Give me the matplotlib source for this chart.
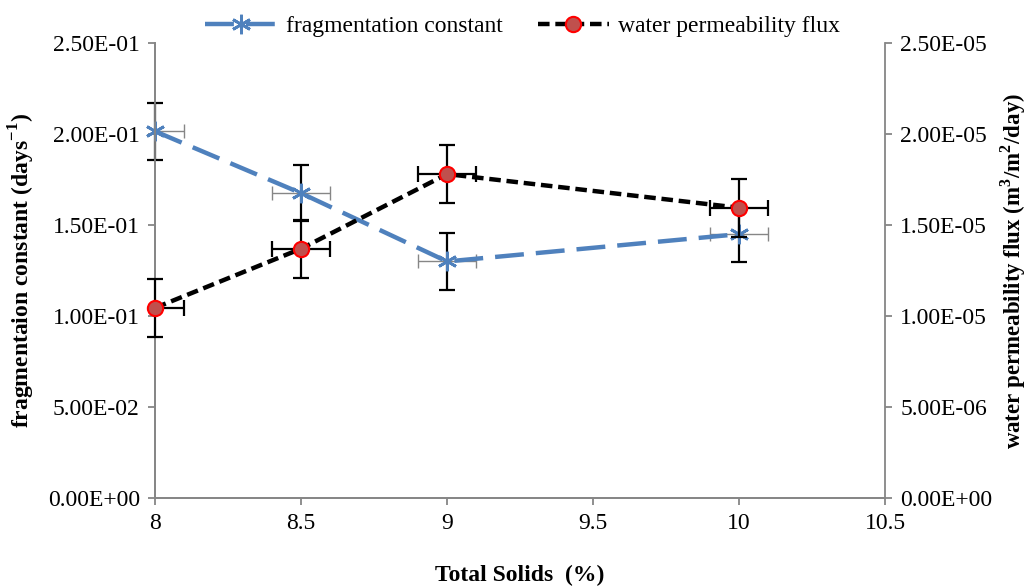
import matplotlib
matplotlib.use("Agg")
import matplotlib.pyplot as plt
from matplotlib.ticker import FuncFormatter

plt.rcParams['font.family'] = ['Liberation Serif', 'DejaVu Serif']
plt.rcParams['mathtext.fontset'] = 'custom'
plt.rcParams['mathtext.rm'] = 'Liberation Serif'
plt.rcParams['mathtext.bf'] = 'Liberation Serif:bold'

# data
total_solids = [8, 8.5, 9, 10]
frag_const = [0.2015, 0.1675, 0.1300, 0.1450]
frag_yerr = [0.0155, 0.0155, 0.0155, 0.0155]
flux = [1.045e-5, 1.37e-5, 1.78e-5, 1.595e-5]
flux_yerr = [1.6e-6, 1.6e-6, 1.6e-6, 1.6e-6]
x_err = [0.1, 0.1, 0.1, 0.1]

blue = '#4F81BD'
grey = '#868686'
fs = 17

def sci(v, pos):
    return '%.2E' % v

fig = plt.figure(figsize=(10.35, 5.86), dpi=100)
ax = fig.add_axes([0.1498, 0.150, 0.7054, 0.7766])
ax2 = ax.twinx()

# fragmentation constant
ax.errorbar(total_solids, frag_const, xerr=x_err, fmt='none', ecolor=grey,
            elinewidth=1.0, capsize=5, capthick=1.0, zorder=3)
eb = ax.errorbar(total_solids, frag_const, yerr=frag_yerr, fmt='none', ecolor='black',
                 elinewidth=1.6, capsize=6, capthick=1.6, zorder=3)
for art in eb.lines[1] + eb.lines[2]:
    art.set_clip_on(False)
l1, = ax.plot(total_solids, frag_const, color=blue, lw=3.2, dashes=(6.5, 2.7),
              marker=(6, 2, 0), markersize=14, markeredgewidth=2,
              markeredgecolor=blue, label='fragmentation constant', zorder=4,
              clip_on=False)

# water permeability flux
ax2.errorbar(total_solids, flux, xerr=x_err, fmt='none', ecolor='black',
             elinewidth=1.6, capsize=6, capthick=1.6, zorder=3)
eb2 = ax2.errorbar(total_solids, flux, yerr=flux_yerr, fmt='none', ecolor='black',
                   elinewidth=1.6, capsize=6, capthick=1.6, zorder=3)
for art in eb2.lines[1] + eb2.lines[2]:
    art.set_clip_on(False)
l2, = ax2.plot(total_solids, flux, color='black', lw=3.2, dashes=(2.6, 1.3),
               marker='o', markersize=11, markerfacecolor='#C0504D',
               markeredgecolor='red', markeredgewidth=1.5,
               label='water permeability flux', zorder=4, clip_on=False)

ax.set_xlim(8, 10.5)
ax.set_ylim(0, 0.25)
ax2.set_ylim(0, 2.5e-5)
ax.set_xticks([8, 8.5, 9, 9.5, 10, 10.5])
ax.set_xticklabels(['8', '8.5', '9', '9.5', '10', '10.5'])
ax.set_yticks([0, 0.05, 0.1, 0.15, 0.2, 0.25])
ax2.set_yticks([0, 0.5e-5, 1e-5, 1.5e-5, 2e-5, 2.5e-5])
ax.yaxis.set_major_formatter(FuncFormatter(sci))
ax2.yaxis.set_major_formatter(FuncFormatter(sci))

for a in (ax, ax2):
    a.spines['top'].set_visible(False)
    for s in ('left', 'right', 'bottom'):
        a.spines[s].set_color(grey)
        a.spines[s].set_linewidth(1.3)
    a.tick_params(axis='both', colors=grey, labelcolor='black', labelsize=fs,
                  direction='out', length=5, width=1.3, pad=6)
ax.spines['right'].set_visible(False)

ax.set_xlabel('Total Solids  (%)', fontsize=fs, fontweight='bold', labelpad=22)
ax.set_ylabel('fragmentaion constant (days$^{\\mathbf{-1}}$)', fontsize=fs,
              fontweight='bold', labelpad=8)
ax2.set_ylabel('water permeability flux (m$^{\\mathbf{3}}$/m$^{\\mathbf{2}}$/day)',
               fontsize=16.5, fontweight='bold', labelpad=4)

fig.legend(handles=[l1, l2], loc='upper center', bbox_to_anchor=(0.505, 1.01),
           ncol=2, frameon=False, fontsize=fs, handlelength=3.0, columnspacing=1.5,
           handletextpad=0.4)

fig.savefig('out.png', dpi=100)
